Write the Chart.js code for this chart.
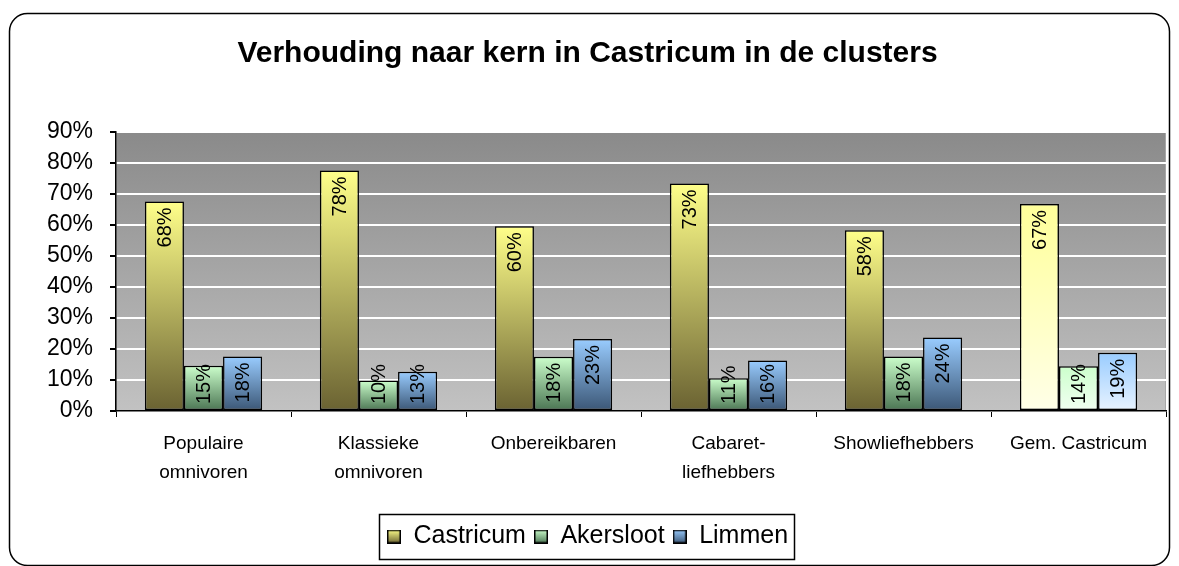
<!DOCTYPE html>
<html>
<head>
<meta charset="utf-8">
<script src="https://cdn.jsdelivr.net/npm/chart.js@4/dist/chart.umd.min.js"></script>
<style>
  html, body { margin: 0; padding: 0; background: #fff; }
  #wrap { width: 1179px; height: 566px; }
</style>
</head>
<body>
<div id="wrap"><canvas id="cluster_chart"></canvas></div>
<script>
// data
var categories = [
  ["Populaire", "omnivoren"],
  ["Klassieke", "omnivoren"],
  "Onbereikbaren",
  ["Cabaret-", "liefhebbers"],
  "Showliefhebbers",
  "Gem. Castricum"
];
var castricum = [67.6, 77.6, 59.6, 73.4, 58.3, 66.8];
var akersloot = [14.6, 9.8, 17.5, 10.6, 17.6, 14.4];
var limmen = [17.6, 12.7, 23.2, 16.3, 23.7, 18.8];
var yTicks = [0, 10, 20, 30, 40, 50, 60, 70, 80, 90];

var FONT = "'Liberation Sans', Arial, sans-serif";

// top / bottom colours of the bar gradients, last category is pale
var fills = [
  { top: "#ffff8a", bottom: "#6a6232", paleTop: "#ffff99", paleBottom: "#ffffe8" },
  { top: "#ccffcc", bottom: "#4a7452", paleTop: "#ccffcc", paleBottom: "#f2fff2" },
  { top: "#99ccff", bottom: "#3b5675", paleTop: "#99ccff", paleBottom: "#e8f3ff" }
];

function barFill(context) {
  var chart = context.chart;
  var f = fills[context.datasetIndex];
  var pale = context.dataIndex === categories.length - 1;
  var y = chart.scales.y;
  if (!chart.chartArea || !y || context.raw === undefined) return pale ? f.paleTop : f.top;
  var top = y.getPixelForValue(context.raw);
  var base = y.getPixelForValue(0);
  if (!isFinite(top) || !isFinite(base) || top === base) return pale ? f.paleTop : f.top;
  var g = chart.ctx.createLinearGradient(0, top, 0, base);
  g.addColorStop(0, pale ? f.paleTop : f.top);
  g.addColorStop(1, pale ? f.paleBottom : f.bottom);
  return g;
}

var decorPlugin = {
  id: "decor",
  beforeDraw: function (chart) {
    var c = chart.ctx, a = chart.chartArea;
    c.save();
    c.fillStyle = "#fff";
    c.fillRect(0, 0, chart.width, chart.height);
    // outer rounded frame
    c.beginPath();
    c.roundRect(9.5, 13.5, 1160, 552, 18);
    c.strokeStyle = "#000";
    c.lineWidth = 1.5;
    c.stroke();
    // plot area gradient
    var g = c.createLinearGradient(0, a.top, 0, a.bottom);
    g.addColorStop(0, "#8a8a8a");
    g.addColorStop(1, "#c2c2c2");
    c.fillStyle = g;
    c.fillRect(a.left, a.top, a.right - a.left, a.bottom - a.top);
    c.strokeStyle = "#a8a8a8";
    c.lineWidth = 1;
    c.strokeRect(a.left + 0.5, a.top + 0.5, a.right - a.left - 1, a.bottom - a.top);
    c.restore();
  },
  afterDatasetsDraw: function (chart) {
    var c = chart.ctx;
    var base = chart.scales.y.getPixelForValue(0);
    c.save();
    c.font = "20px " + FONT;
    c.fillStyle = "#000";
    c.textBaseline = "middle";
    chart.data.datasets.forEach(function (ds, di) {
      chart.getDatasetMeta(di).data.forEach(function (bar, i) {
        var txt = Math.round(ds.data[i]) + "%";
        var len = c.measureText(txt).width;
        var top = bar.y + 6;
        if (top + len > base - 7) top = base - 7 - len;
        c.save();
        c.translate(bar.x, top + len / 2);
        c.rotate(-Math.PI / 2);
        c.textAlign = "center";
        c.fillText(txt, 0, 1);
        c.restore();
      });
    });
    c.restore();
  },
  afterDraw: function (chart) {
    var boxes = chart.legend.legendHitBoxes;
    if (!boxes || !boxes.length) return;
    var l = Infinity, r = -Infinity, t = Infinity, b = -Infinity;
    boxes.forEach(function (h) {
      l = Math.min(l, h.left); r = Math.max(r, h.left + h.width);
      t = Math.min(t, h.top); b = Math.max(b, h.top + h.height);
    });
    var c = chart.ctx;
    c.save();
    c.strokeStyle = "#000";
    c.lineWidth = 1.5;
    c.strokeRect(Math.round(l - 8) + 0.5, Math.round(t - 10) + 0.5, Math.round(r - l + 14), Math.round(b - t + 20));
    c.restore();
  }
};

function legendSwatch(i) {
  var f = fills[i];
  var cv = document.createElement("canvas");
  cv.width = 14; cv.height = 14;
  var x = cv.getContext("2d");
  var g = x.createLinearGradient(0, 0, 0, 14);
  g.addColorStop(0, f.top);
  g.addColorStop(1, f.bottom);
  x.fillStyle = g;
  x.fillRect(0, 0, 14, 14);
  x.strokeStyle = "#000";
  x.lineWidth = 1.5;
  x.strokeRect(0.75, 0.75, 12.5, 12.5);
  return cv;
}

var ctx = document.getElementById("cluster_chart").getContext("2d");
var cluster_chart = new Chart(ctx, {
  type: "bar",
  data: {
    labels: categories,
    datasets: [
      { label: "Castricum", data: castricum, backgroundColor: barFill, borderColor: "#000", borderWidth: 1.5 },
      { label: "Akersloot", data: akersloot, backgroundColor: barFill, borderColor: "#000", borderWidth: 1.5 },
      { label: "Limmen", data: limmen, backgroundColor: barFill, borderColor: "#000", borderWidth: 1.5 }
    ]
  },
  options: {
    responsive: true,
    maintainAspectRatio: false,
    animation: false,
    layout: { padding: { left: 9, right: 13, top: 0, bottom: 7 } },
    datasets: {
      bar: { categoryPercentage: 0.67, barPercentage: 1.0, borderSkipped: false }
    },
    scales: {
      x: {
        offset: true,
        afterFit: function (scale) { scale.height = 105; },
        grid: { offset: true, drawOnChartArea: false, tickColor: "#000", tickLength: 6 },
        border: { color: "#000", width: 1.5 },
        ticks: {
          color: "#000",
          maxRotation: 0,
          padding: 13,
          font: { family: FONT, size: 19, lineHeight: 1.5 }
        }
      },
      y: {
        min: 0,
        max: 90,
        afterFit: function (scale) { scale.width = 107; },
        afterBuildTicks: function (scale) {
          scale.ticks = yTicks.map(function (v) { return { value: v }; });
        },
        grid: { color: "#ffffff", lineWidth: 2, tickColor: "#000", tickLength: 6, drawTicks: true },
        border: { color: "#000", width: 1.5 },
        ticks: {
          color: "#000",
          padding: 17,
          autoSkip: false,
          font: { family: FONT, size: 23 },
          callback: function (v) { return v + "%"; }
        }
      }
    },
    plugins: {
      title: {
        display: true,
        text: "Verhouding naar kern in Castricum in de clusters",
        color: "#000",
        font: { family: FONT, size: 30, weight: "bold" },
        padding: { top: 36, bottom: 60 }
      },
      legend: {
        position: "bottom",
        labels: {
          color: "#000",
          font: { family: FONT, size: 25 },
          boxWidth: 14,
          boxHeight: 14,
          padding: 8,
          usePointStyle: true,
          generateLabels: function (chart) {
            return chart.data.datasets.map(function (ds, i) {
              return { text: ds.label, pointStyle: legendSwatch(i), datasetIndex: i, fontColor: "#000", lineWidth: 0 };
            });
          }
        }
      },
      tooltip: { enabled: false }
    }
  },
  plugins: [decorPlugin]
});
</script>
</body>
</html>
